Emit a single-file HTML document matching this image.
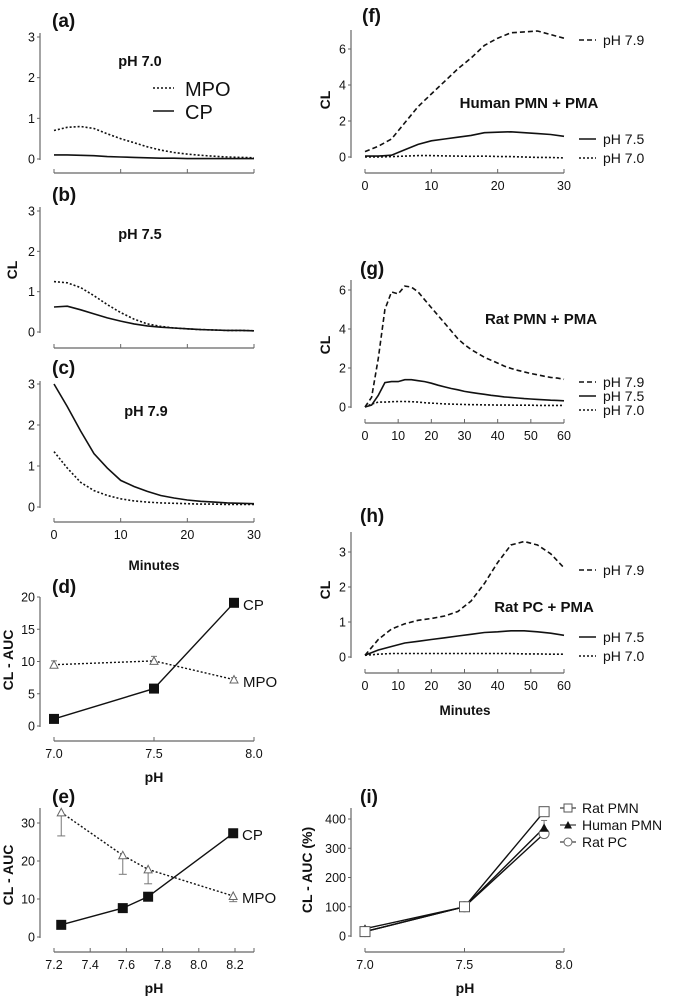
<!DOCTYPE html>
<html><head><meta charset="utf-8"><style>
body{margin:0;background:#fff}
svg{display:block;font-family:"Liberation Sans",Arial,sans-serif}
</style></head><body>
<svg id="fig" width="674" height="1000" viewBox="0 0 674 1000" xmlns="http://www.w3.org/2000/svg"></svg>
<script>
// ---- data ----
const tA = [0,2,4,6,8,10,12,14,16,18,20,22,24,26,28,30];
const aMPO = [0.7,0.78,0.8,0.75,0.62,0.5,0.4,0.3,0.22,0.16,0.12,0.09,0.07,0.05,0.04,0.03];
const aCP = [0.1,0.1,0.09,0.08,0.06,0.05,0.04,0.03,0.02,0.02,0.01,0.01,0.01,0.01,0.01,0.01];
const bMPO = [1.25,1.22,1.1,0.9,0.68,0.48,0.32,0.2,0.14,0.1,0.08,0.06,0.05,0.04,0.04,0.03];
const bCP = [0.62,0.64,0.55,0.45,0.35,0.27,0.2,0.15,0.12,0.1,0.08,0.06,0.05,0.04,0.04,0.03];
const cMPO = [1.35,0.95,0.6,0.4,0.28,0.2,0.15,0.12,0.1,0.09,0.08,0.07,0.07,0.06,0.06,0.06];
const cCP = [3.0,2.45,1.85,1.3,0.95,0.65,0.5,0.38,0.28,0.22,0.17,0.14,0.12,0.1,0.09,0.08];
const dPH = [7.0,7.5,7.9];
const dCP = [1.1,5.8,19.1];
const dMPO = [9.5,10.1,7.2];
const dMPOerr = [0.6,0.7,0.3];
const ePH = [7.24,7.58,7.72,8.19];
const eCP = [3.2,7.6,10.6,27.3];
const eMPO = [32.8,21.5,17.8,10.8];
const eMPOlow = [26.6,16.5,14.0,9.3];
const tF = [0,2,4,6,8,10,12,14,16,18,20,22,24,26,28,30];
const f79 = [0.3,0.6,1.0,1.9,2.8,3.5,4.2,4.9,5.5,6.2,6.6,6.9,6.95,7.0,6.8,6.6];
const f75 = [0.05,0.05,0.1,0.4,0.7,0.9,1.0,1.1,1.2,1.35,1.38,1.4,1.35,1.3,1.25,1.15];
const f70 = [0,0,0.02,0.05,0.08,0.08,0.06,0.05,0.04,0.05,0.03,0.02,0.0,-0.02,-0.03,-0.05];
const tG = [0,2,4,6,8,10,12,14,16,18,20,22,24,26,28,30,32,34,36,38,40,42,44,46,48,50,52,54,56,58,60];
const g79 = [0,0.5,2.5,5.0,5.9,5.8,6.2,6.15,5.9,5.5,5.1,4.7,4.3,3.9,3.5,3.2,2.95,2.75,2.55,2.4,2.25,2.1,1.98,1.88,1.8,1.72,1.65,1.58,1.52,1.48,1.42];
const g75 = [0,0.1,0.6,1.25,1.3,1.3,1.4,1.4,1.35,1.3,1.22,1.12,1.03,0.95,0.88,0.8,0.75,0.7,0.65,0.6,0.56,0.52,0.49,0.46,0.43,0.41,0.39,0.37,0.35,0.34,0.32];
const g70 = [0,0.15,0.25,0.25,0.27,0.28,0.28,0.27,0.25,0.22,0.2,0.18,0.16,0.15,0.14,0.13,0.12,0.12,0.11,0.11,0.1,0.1,0.1,0.09,0.09,0.09,0.08,0.08,0.08,0.08,0.08];
const tH = [0,4,8,12,16,20,24,28,32,36,40,44,48,52,56,60];
const h79 = [0.05,0.5,0.8,0.95,1.05,1.1,1.17,1.3,1.6,2.1,2.7,3.2,3.3,3.2,2.95,2.55];
const h75 = [0.05,0.2,0.3,0.4,0.45,0.5,0.55,0.6,0.65,0.7,0.72,0.75,0.75,0.72,0.68,0.62];
const h70 = [0.05,0.08,0.1,0.1,0.1,0.1,0.1,0.1,0.1,0.1,0.1,0.1,0.09,0.09,0.08,0.08];
const iPH = [7.0,7.5,7.9];
const iRatPMN = [15,100,425];
const iHumanPMN = [25,100,370];
const iRatPC = [15,100,350];

const svg = document.getElementById('fig');
const NS = 'http://www.w3.org/2000/svg';
function el(tag, attrs, parent){const e=document.createElementNS(NS,tag);for(const k in attrs)e.setAttribute(k,attrs[k]);(parent||svg).appendChild(e);return e;}
function txt(x,y,s,opt,name){const o=Object.assign({x:x,y:y,'font-size':12,fill:'#111'},opt||{});const t=el('text',o);t.textContent=s;


return t;}
function lin(d0,d1,r0,r1){return v=>r0+(v-d0)*(r1-r0)/(d1-d0);}
const AX='#666';

function axes(p){
  const g=el('g',{});
  
  
  el('line',{x1:p.ax,x2:p.ax,y1:p.ytop,y2:p.y(p.yt[0])+1,stroke:AX,'stroke-width':1.2},g);
  p.yt.forEach(v=>{el('line',{x1:p.ax-3,x2:p.ax,y1:p.y(v),y2:p.y(v),stroke:AX},g);
    txt(p.ax-5,p.y(v)+4.5,String(v),{'text-anchor':'end','font-size':12.5},p.name+'-y-tick');});
  el('line',{x1:p.x(p.xt[0]),x2:p.xend,y1:p.xay,y2:p.xay,stroke:AX,'stroke-width':1.2},g);
  p.xt.forEach(v=>{el('line',{x1:p.x(v),x2:p.x(v),y1:p.xay-4,y2:p.xay,stroke:AX},g);
    if(p.xl) txt(p.x(v),p.xay+17,p.fmt?p.fmt(v):String(v),{'text-anchor':'middle','font-size':12.5},p.name+'-x-tick');});
  if(p.xend>p.x(p.xt[p.xt.length-1])+2) el('line',{x1:p.xend,x2:p.xend,y1:p.xay-4,y2:p.xay,stroke:AX},g);
}
function line(p,xs,ys,dash,name,w){
  const d=xs.map((v,i)=>(i?'L':'M')+p.x(v).toFixed(1)+','+p.y(ys[i]).toFixed(1)).join('');
  const e=el('path',{d:d,fill:'none',stroke:'#111','stroke-width':w||1.6,'stroke-dasharray':dash||'none'});
  
  
  return e;
}
const DOT='2,2', DASH='5,3';

// left time panels
const P={};
P.a={name:'panel-a',ax:40,ytop:33,x:lin(0,30,54,254),y:lin(0,3,159,37),yt:[0,1,2,3],xt:[0,10,20,30],xay:173,xend:254,xl:false};
P.b={name:'panel-b',ax:40,ytop:207,x:lin(0,30,54,254),y:lin(0,3,332,211),yt:[0,1,2,3],xt:[0,10,20,30],xay:348,xend:254,xl:false};
P.c={name:'panel-c',ax:40,ytop:381,x:lin(0,30,54,254),y:lin(0,3,507,384),yt:[0,1,2,3],xt:[0,10,20,30],xay:522,xend:254,xl:true};
['a','b','c'].forEach(k=>axes(P[k]));
line(P.a,tA,aMPO,DOT,'a-mpo-line');line(P.a,tA,aCP,null,'a-cp-line');
line(P.b,tA,bMPO,DOT,'b-mpo-line');line(P.b,tA,bCP,null,'b-cp-line');
line(P.c,tA,cMPO,DOT,'c-mpo-line');line(P.c,tA,cCP,null,'c-cp-line');
txt(52,27,'(a)',{'font-size':19,'font-weight':'bold'},'panel-a-label');
txt(52,201,'(b)',{'font-size':19,'font-weight':'bold'},'panel-b-label');
txt(52,374,'(c)',{'font-size':19,'font-weight':'bold'},'panel-c-label');
txt(140,66,'pH 7.0',{'font-size':14.5,'font-weight':'bold','text-anchor':'middle'},'a-title');
txt(140,239,'pH 7.5',{'font-size':14.5,'font-weight':'bold','text-anchor':'middle'},'b-title');
txt(146,416,'pH 7.9',{'font-size':14.5,'font-weight':'bold','text-anchor':'middle'},'c-title');
let e=el('line',{x1:153,x2:174,y1:88,y2:88,stroke:'#111','stroke-width':1.6,'stroke-dasharray':DOT});

e=el('line',{x1:153,x2:174,y1:111,y2:111,stroke:'#111','stroke-width':1.6});

txt(185,96,'MPO',{'font-size':20},'legend-mpo');
txt(185,119,'CP',{'font-size':20},'legend-cp');
txt(17,270,'CL',{'font-size':14,'font-weight':'bold','text-anchor':'middle',transform:'rotate(-90 17 270)'},'y-axis-title-abc');
txt(154,570,'Minutes',{'font-size':13.5,'font-weight':'bold','text-anchor':'middle'},'x-axis-title-c');

// panel d
P.d={name:'panel-d',ax:40,ytop:597,x:lin(7,8,54,254),y:lin(0,20,726,597),yt:[0,5,10,15,20],xt:[7.0,7.5,8.0],xay:741,xend:254,xl:true,fmt:v=>v.toFixed(1)};
axes(P.d);
txt(52,593,'(d)',{'font-size':19,'font-weight':'bold'},'panel-d-label');
line(P.d,dPH,dMPO,DOT,'d-mpo-line',1.4);
dPH.forEach((v,i)=>{const x=P.d.x(v),y=P.d.y(dMPO[i]);
  el('line',{x1:x,x2:x,y1:P.d.y(dMPO[i]+dMPOerr[i]),y2:y,stroke:'#777'});
  el('line',{x1:x-3,x2:x+3,y1:P.d.y(dMPO[i]+dMPOerr[i]),y2:P.d.y(dMPO[i]+dMPOerr[i]),stroke:'#777'});
  const m=el('path',{d:`M${x-4},${y+3.5}L${x+4},${y+3.5}L${x},${y-4}Z`,fill:'#fff',stroke:'#666'});
  });
line(P.d,dPH,dCP,null,'d-cp-line',1.4);
dPH.forEach((v,i)=>{const m=el('rect',{x:P.d.x(v)-5,y:P.d.y(dCP[i])-5,width:10,height:10,fill:'#111'});
  });
txt(243,610,'CP',{'font-size':15},'d-cp-label');
txt(243,687,'MPO',{'font-size':15},'d-mpo-label');
txt(13,660,'CL - AUC',{'font-size':14,'font-weight':'bold','text-anchor':'middle',transform:'rotate(-90 13 660)'},'y-axis-title-d');
txt(154,782,'pH',{'font-size':14,'font-weight':'bold','text-anchor':'middle'},'x-axis-title-d');

// panel e
P.e={name:'panel-e',ax:40,ytop:808,x:lin(7.2,8.2,54,235),y:lin(0,30,937,823),yt:[0,10,20,30],xt:[7.2,7.4,7.6,7.8,8.0,8.2],xay:952,xend:254,xl:true,fmt:v=>v.toFixed(1)};
axes(P.e);
txt(52,803,'(e)',{'font-size':19,'font-weight':'bold'},'panel-e-label');
line(P.e,ePH,eMPO,DOT,'e-mpo-line',1.4);
ePH.forEach((v,i)=>{const x=P.e.x(v),y=P.e.y(eMPO[i]),yl=P.e.y(eMPOlow[i]);
  el('line',{x1:x,x2:x,y1:y,y2:yl,stroke:'#777'});
  el('line',{x1:x-4,x2:x+4,y1:yl,y2:yl,stroke:'#777'});
  const m=el('path',{d:`M${x-4},${y+3.5}L${x+4},${y+3.5}L${x},${y-4}Z`,fill:'#fff',stroke:'#666'});
  });
line(P.e,ePH,eCP,null,'e-cp-line',1.4);
ePH.forEach((v,i)=>{const m=el('rect',{x:P.e.x(v)-5,y:P.e.y(eCP[i])-5,width:10,height:10,fill:'#111'});
  });
txt(242,840,'CP',{'font-size':15},'e-cp-label');
txt(242,903,'MPO',{'font-size':15},'e-mpo-label');
txt(13,875,'CL - AUC',{'font-size':14,'font-weight':'bold','text-anchor':'middle',transform:'rotate(-90 13 875)'},'y-axis-title-e');
txt(154,993,'pH',{'font-size':14,'font-weight':'bold','text-anchor':'middle'},'x-axis-title-e');

// right panels
function rlegend(items){items.forEach(it=>{
  const s=el('line',{x1:579,x2:596,y1:it.y,y2:it.y,stroke:'#111','stroke-width':1.6,'stroke-dasharray':it.dash||'none'});
  
  txt(603,it.y+5,it.t,{'font-size':14},'legend-entry');});}
P.f={name:'panel-f',ax:351,ytop:30,x:lin(0,30,365,564),y:lin(0,6,157,49),yt:[0,2,4,6],xt:[0,10,20,30],xay:173,xend:564,xl:true};
axes(P.f);
line(P.f,tF,f79,DASH,'f-ph79-line');line(P.f,tF,f75,null,'f-ph75-line');line(P.f,tF,f70,DOT,'f-ph70-line');
txt(362,22,'(f)',{'font-size':19,'font-weight':'bold'},'panel-f-label');
txt(529,108,'Human PMN + PMA',{'font-size':15,'font-weight':'bold','text-anchor':'middle'},'f-title');
rlegend([{y:40,t:'pH 7.9',dash:DASH},{y:139,t:'pH 7.5'},{y:158,t:'pH 7.0',dash:DOT}]);
txt(330,100,'CL',{'font-size':14,'font-weight':'bold','text-anchor':'middle',transform:'rotate(-90 330 100)'},'y-axis-title-f');

P.g={name:'panel-g',ax:351,ytop:280,x:lin(0,60,365,564),y:lin(0,6,407,290),yt:[0,2,4,6],xt:[0,10,20,30,40,50,60],xay:423,xend:564,xl:true};
axes(P.g);
line(P.g,tG,g79,DASH,'g-ph79-line');line(P.g,tG,g75,null,'g-ph75-line');line(P.g,tG,g70,DOT,'g-ph70-line');
txt(360,275,'(g)',{'font-size':19,'font-weight':'bold'},'panel-g-label');
txt(541,324,'Rat PMN + PMA',{'font-size':15,'font-weight':'bold','text-anchor':'middle'},'g-title');
rlegend([{y:382,t:'pH 7.9',dash:DASH},{y:396,t:'pH 7.5'},{y:410,t:'pH 7.0',dash:DOT}]);
txt(330,345,'CL',{'font-size':14,'font-weight':'bold','text-anchor':'middle',transform:'rotate(-90 330 345)'},'y-axis-title-g');

P.h={name:'panel-h',ax:351,ytop:532,x:lin(0,60,365,564),y:lin(0,3,657,552),yt:[0,1,2,3],xt:[0,10,20,30,40,50,60],xay:673,xend:564,xl:true};
axes(P.h);
line(P.h,tH,h79,DASH,'h-ph79-line');line(P.h,tH,h75,null,'h-ph75-line');line(P.h,tH,h70,DOT,'h-ph70-line');
txt(360,522,'(h)',{'font-size':19,'font-weight':'bold'},'panel-h-label');
txt(544,612,'Rat PC + PMA',{'font-size':15,'font-weight':'bold','text-anchor':'middle'},'h-title');
rlegend([{y:570,t:'pH 7.9',dash:DASH},{y:637,t:'pH 7.5'},{y:656,t:'pH 7.0',dash:DOT}]);
txt(330,590,'CL',{'font-size':14,'font-weight':'bold','text-anchor':'middle',transform:'rotate(-90 330 590)'},'y-axis-title-h');
txt(465,715,'Minutes',{'font-size':13.5,'font-weight':'bold','text-anchor':'middle'},'x-axis-title-h');

P.i={name:'panel-i',ax:351,ytop:808,x:lin(7,8,365,564),y:lin(0,400,936,819),yt:[0,100,200,300,400],xt:[7.0,7.5,8.0],xay:952,xend:564,xl:true,fmt:v=>v.toFixed(1)};
axes(P.i);
txt(360,803,'(i)',{'font-size':19,'font-weight':'bold'},'panel-i-label');
line(P.i,iPH,iRatPC,null,'i-ratpc-line',1.4);
line(P.i,iPH,iHumanPMN,null,'i-humanpmn-line',1.4);
line(P.i,iPH,iRatPMN,null,'i-ratpmn-line',1.4);
(function(){const x=P.i.x(7.9);el('line',{x1:x,x2:x,y1:P.i.y(370),y2:P.i.y(395),stroke:'#777'});el('line',{x1:x-3,x2:x+3,y1:P.i.y(395),y2:P.i.y(395),stroke:'#777'});})();
iPH.forEach((v,i)=>{const x=P.i.x(v);
  let m=el('circle',{cx:x,cy:P.i.y(iRatPC[i]),r:5,fill:'#fff',stroke:'#666'});
  const y=P.i.y(iHumanPMN[i]);
  m=el('path',{d:`M${x-4.5},${y+4}L${x+4.5},${y+4}L${x},${y-4.5}Z`,fill:'#111'});
  m=el('rect',{x:x-5,y:P.i.y(iRatPMN[i])-5,width:10,height:10,fill:'#fff',stroke:'#555'});});
[{y:808,t:'Rat PMN',k:'sq'},{y:825,t:'Human PMN',k:'tri'},{y:842,t:'Rat PC',k:'ci'}].forEach(it=>{
  const s=el('line',{x1:560,x2:576,y1:it.y,y2:it.y,stroke:'#111'});
  
  if(it.k==='sq')el('rect',{x:564,y:it.y-4,width:8,height:8,fill:'#fff',stroke:'#555'});
  if(it.k==='tri')el('path',{d:`M564,${it.y+3.5}L572,${it.y+3.5}L568,${it.y-4}Z`,fill:'#111'});
  if(it.k==='ci')el('circle',{cx:568,cy:it.y,r:4,fill:'#fff',stroke:'#666'});
  txt(582,it.y+5,it.t,{'font-size':14},'legend-entry');});
txt(312,870,'CL - AUC (%)',{'font-size':14,'font-weight':'bold','text-anchor':'middle',transform:'rotate(-90 312 870)'},'y-axis-title-i');
txt(465,993,'pH',{'font-size':14,'font-weight':'bold','text-anchor':'middle'},'x-axis-title-i');
</script>
</body></html>
